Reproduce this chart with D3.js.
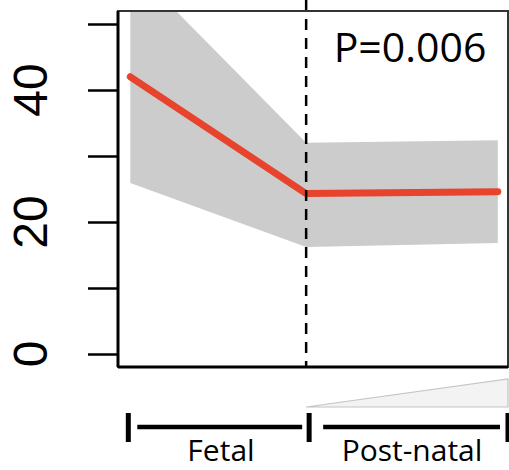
<!DOCTYPE html>
<html>
<head>
<meta charset="utf-8">
<script src="https://cdn.jsdelivr.net/npm/d3@7"></script>
<style>
  body { margin: 0; background: white; }
</style>
</head>
<body>
<div id="container"></div>
<script>
let w = 509;
let h = 470;

// DATA
let ages = [-1, 0, 1.09];            // fetal start, birth, last sample
let fitted = [42, 24.3, 24.6];       // red line
let upper = [59, 32, 32.4];          // grey band top
let lower = [25.9, 16.2, 16.8];      // grey band bottom
let yTicks = [0, 10, 20, 30, 40, 50];
let yLabels = [0, 20, 40];
let periods = ["Fetal", "Post-natal"];
let pLabel = "P=0.006";

let box = {left: 118, right: 508, top: 11, bottom: 367};

let viz = d3.select("#container").append("svg")
    .attr("width", w)
    .attr("height", h)
    .style("display", "block");

let xScale = d3.scaleLinear().domain([-1.07, 1.148]).range([box.left, box.right]);
let yScale = d3.scaleLinear().domain([0, 50]).range([354, 24]);

let rows = ages.map(function(a, i){
  return {age: a, fit: fitted[i], hi: upper[i], lo: lower[i]};
});

viz.append("clipPath").attr("id", "plotclip")
  .append("rect")
    .attr("x", box.left).attr("y", box.top)
    .attr("width", box.right - box.left).attr("height", box.bottom - box.top);

let plot = viz.append("g").attr("clip-path", "url(#plotclip)");

// confidence band
let areaMaker = d3.area()
    .x(function(d){ return xScale(d.age); })
    .y0(function(d){ return yScale(d.lo); })
    .y1(function(d){ return yScale(d.hi); });

plot.append("path")
    .datum(rows)
    .attr("d", areaMaker)
    .attr("fill", "#cccccc");

// fitted line
let lineMaker = d3.line()
    .x(function(d){ return xScale(d.age); })
    .y(function(d){ return yScale(d.fit); });

plot.append("path")
    .datum(rows)
    .attr("d", lineMaker)
    .attr("fill", "none")
    .attr("stroke", "#e8432c")
    .attr("stroke-width", 7)
    .attr("stroke-linecap", "round")
    .attr("stroke-linejoin", "round");

// birth line
viz.append("line")
    .attr("x1", xScale(0)).attr("x2", xScale(0))
    .attr("y1", 0).attr("y2", box.bottom)
    .attr("stroke", "black")
    .attr("stroke-width", 2.5)
    .attr("stroke-dasharray", "11,8");

// box
viz.append("rect")
    .attr("x", box.left).attr("y", box.top)
    .attr("width", box.right - box.left).attr("height", box.bottom - box.top)
    .attr("fill", "none")
    .attr("stroke", "#333")
    .attr("stroke-width", 2);

viz.append("line")
    .attr("x1", box.left).attr("x2", box.right)
    .attr("y1", box.bottom).attr("y2", box.bottom)
    .attr("stroke", "black").attr("stroke-width", 3);
viz.append("line")
    .attr("x1", box.left).attr("x2", box.left)
    .attr("y1", box.top).attr("y2", box.bottom)
    .attr("stroke", "black").attr("stroke-width", 3);

// y axis
let yAxis = d3.axisLeft(yScale)
    .tickValues(yTicks)
    .tickSize(30)
    .tickFormat("");

let yg = viz.append("g")
    .attr("transform", "translate(" + box.left + ",0)")
    .call(yAxis);
yg.select(".domain").remove();
yg.selectAll(".tick line").attr("stroke", "black").attr("stroke-width", 2.5);

viz.selectAll(".ylab").data(yLabels).enter()
  .append("text")
    .attr("class", "ylab")
    .attr("transform", function(d){ return "translate(47," + yScale(d) + ") rotate(-90)"; })
    .attr("text-anchor", "middle")
    .style("font-family", "'Liberation Sans', Arial, sans-serif")
    .style("font-size", "48px")
    .text(function(d){ return d; });

// p-value
viz.append("text")
    .attr("x", 410)
    .attr("y", 62)
    .attr("text-anchor", "middle")
    .style("font-family", "'Open Sans', sans-serif")
    .style("font-size", "41px")
    .text(pLabel);

// age wedge under the post-natal part
let x0 = xScale(0);
let xEnd = xScale(xScale.domain()[1]);
viz.append("path")
    .attr("d", "M" + x0 + ",407L" + xEnd + ",379L" + xEnd + ",407Z")
    .attr("fill", "#f3f3f3")
    .attr("stroke", "#c4c4c4")
    .attr("stroke-width", 1.2);

// period brackets
let bounds = [[xScale(ages[0]), x0], [x0, xEnd]];
let bg = viz.append("g");
[xScale(ages[0]) - 2, x0 + 3, xEnd].forEach(function(x){
  bg.append("line")
    .attr("x1", x).attr("x2", x)
    .attr("y1", 413).attr("y2", 442)
    .attr("stroke", "black").attr("stroke-width", 5);
});
bounds.forEach(function(b, i){
  bg.append("line")
    .attr("x1", b[0] + 9 - (i == 0 ? 2 : -8)).attr("x2", b[1] - (i == 0 ? 4 : 8))
    .attr("y1", 427).attr("y2", 427)
    .attr("stroke", "black").attr("stroke-width", 4.5);
  bg.append("text")
    .attr("x", i == 0 ? 221 : 412)
    .attr("y", 461)
    .attr("text-anchor", "middle")
    .style("font-family", "'Open Sans', sans-serif")
    .style("font-size", "30px")
    .text(periods[i]);
});
</script>
</body>
</html>
